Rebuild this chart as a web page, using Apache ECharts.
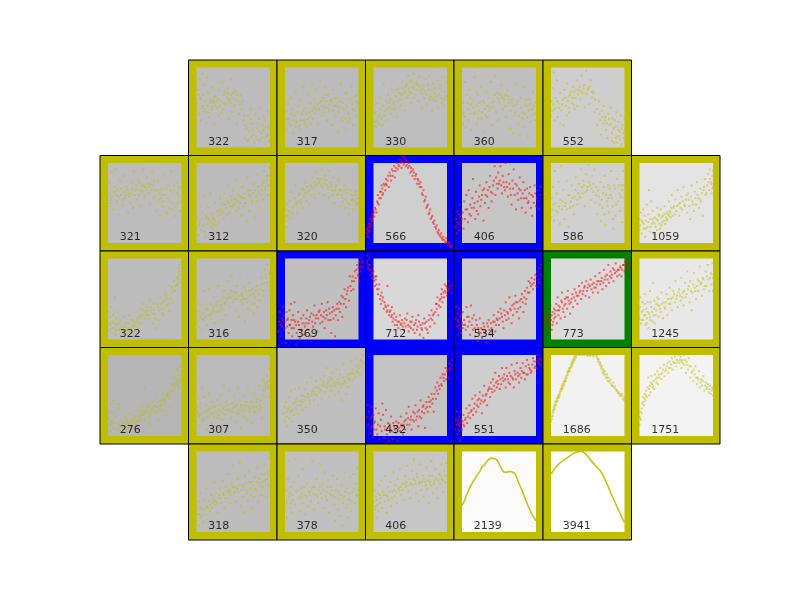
<!DOCTYPE html>
<html>
<head>
<meta charset="utf-8">
<script src="https://cdn.jsdelivr.net/npm/echarts@6/dist/echarts.min.js"></script>
<style>
  html, body { margin: 0; background: #fff; }
  #chart { width: 800px; height: 600px; }
</style>
</head>
<body>
<div id="chart"></div>
<script>
// points, x and y are 0-100 inside each cell's inner box
// row 1
const p322a = [[1,55],[2,72],[3,42],[4,85],[5,62],[6,34],[7,50],[8,92],[9,66],[10,45],[11,78],[12,58],[13,30],[14,88],[15,52],[16,68],[17,38],[19,60],[20,47],[21,75],[23,56],[24,30],[26,64],[28,50],[30,72],[31,40],[33,58],[35,82],[36,48],[38,66],[40,54],[42,74],[44,36],[45,60],[47,85],[48,45],[50,68],[52,52],[54,70],[55,30],[57,58],[58,42],[60,65],[62,48],[64,34],[66,12],[67,28],[69,8],[70,40],[72,20],[74,48],[75,14],[77,30],[79,6],[80,42],[82,24],[84,10],[85,36],[87,50],[88,18],[90,28],[92,4],[93,34],[95,14],[96,45],[98,24],[99,8]];
const q322a = [[18,56],[22,58],[25,52],[21,50],[27,57],[29,61],[24,63],[41,62],[43,68],[46,56],[39,70],[44,59],[49,62],[51,72],[53,60],[47,66],[59,54],[56,66],[63,58],[37,55],[6,60],[3,66],[9,52],[12,48],[15,44],[32,52],[34,44],[73,30],[76,22],[78,16],[81,14],[83,30],[86,20],[89,12],[91,22],[94,26],[97,16],[100,30],[71,10],[74,36],[68,24],[65,40],[87,8],[92,38]];
const p317 = [[0,30],[1,45],[2,22],[4,55],[5,36],[7,62],[8,28],[10,48],[11,18],[13,40],[15,70],[16,32],[18,52],[19,24],[21,60],[23,42],[24,76],[26,34],[28,50],[30,26],[32,66],[33,44],[35,55],[37,80],[38,36],[40,60],[42,48],[43,72],[45,30],[47,56],[48,84],[50,40],[52,62],[54,50],[55,76],[57,34],[59,66],[60,46],[62,58],[64,28],[66,72],[67,52],[69,40],[71,62],[72,20],[74,50],[76,80],[78,38],[79,56],[81,24],[83,68],[85,44],[86,32],[88,60],[90,76],[92,48],[93,28],[95,64],[97,40],[99,56],[100,70]];
const q317 = [[34,38],[37,46],[41,42],[39,50],[44,54],[46,48],[49,58],[51,52],[53,44],[56,58],[58,50],[61,54],[63,60],[65,46],[68,62],[70,52],[73,44],[75,58],[77,34],[80,48],[84,52],[87,42],[89,36],[91,54],[94,46],[96,58],[98,66],[22,34],[25,46],[27,30],[29,42],[31,36],[12,34],[9,42],[6,30],[3,36],[14,26],[17,44],[20,28],[82,36],[36,30],[55,66]];
const p330 = [[1,32],[2,44],[3,26],[4,55],[6,38],[7,30],[9,62],[10,48],[12,28],[14,80],[15,40],[17,58],[18,34],[20,66],[22,50],[24,42],[25,72],[27,56],[29,48],[30,64],[32,38],[34,74],[36,60],[37,52],[39,82],[41,68],[42,46],[44,76],[46,62],[47,90],[49,70],[51,56],[52,84],[54,74],[55,92],[57,66],[59,80],[61,58],[62,88],[64,72],[66,50],[68,78],[69,62],[71,86],[73,54],[75,72],[76,90],[78,64],[80,46],[81,80],[83,68],[85,58],[87,84],[88,50],[90,74],[92,62],[94,88],[95,52],[97,70],[99,82]];
const q330 = [[19,48],[21,56],[23,60],[26,48],[28,54],[16,46],[13,52],[5,34],[8,40],[11,36],[33,58],[35,68],[38,66],[40,74],[43,70],[45,78],[48,74],[50,82],[53,76],[56,80],[58,72],[60,78],[63,76],[65,68],[67,74],[70,70],[72,66],[74,78],[77,60],[79,72],[82,60],[84,74],[86,64],[89,66],[91,78],[93,56],[96,60],[98,64],[31,72],[47,66],[51,68],[55,62]];
const p360 = [[1,30],[2,56],[3,40],[4,82],[5,25],[6,66],[8,48],[9,34],[10,72],[12,54],[13,22],[14,60],[16,42],[17,88],[19,52],[20,30],[21,66],[23,46],[25,76],[26,36],[28,58],[29,20],[31,48],[33,70],[34,38],[36,62],[38,50],[39,82],[41,28],[43,58],[45,90],[46,44],[48,68],[49,34],[51,56],[53,78],[55,48],[56,64],[58,52],[60,38],[61,72],[63,56],[65,24],[66,46],[68,60],[69,18],[71,40],[73,80],[74,54],[76,30],[78,16],[79,62],[81,44],[83,26],[84,76],[86,52],[88,38],[89,14],[91,60],[93,32],[95,48],[96,70],[98,42],[100,56]];
const q360 = [[44,66],[47,62],[50,60],[52,66],[54,62],[57,60],[59,66],[62,64],[64,60],[67,56],[42,50],[40,56],[37,46],[35,52],[32,40],[30,56],[27,44],[24,56],[22,36],[18,44],[15,50],[11,42],[7,56],[4,38],[2,44],[70,52],[72,44],[75,58],[77,40],[80,50],[82,36],[85,42],[87,60],[90,46],[92,54],[94,40],[97,52],[99,34],[11,62],[19,70]];
const p552 = [[0,40],[1,58],[2,46],[3,74],[4,94],[5,34],[6,62],[7,50],[8,84],[9,38],[10,56],[12,68],[13,30],[14,46],[16,60],[17,28],[18,72],[20,52],[21,40],[22,80],[24,64],[25,44],[27,70],[28,56],[30,76],[32,48],[33,62],[35,84],[36,52],[38,72],[40,60],[42,90],[43,68],[45,78],[46,50],[48,96],[49,66],[51,74],[52,54],[54,84],[56,62],[57,70],[59,44],[60,60],[62,48],[63,28],[65,58],[67,34],[68,16],[69,46],[71,30],[72,52],[74,38],[75,22],[77,12],[78,42],[80,28],[81,50],[83,18],[84,36],[86,6],[88,26],[89,44],[90,14],[92,32],[94,20],[95,40],[96,4],[97,28],[99,12],[100,36]];
const q552 = [[26,66],[29,62],[31,70],[34,72],[37,66],[39,76],[41,70],[44,74],[47,68],[50,72],[53,76],[55,70],[58,68],[23,58],[19,62],[15,54],[11,50],[8,58],[5,48],[3,54],[24,50],[31,54],[66,42],[70,38],[73,34],[76,30],[79,36],[82,30],[85,24],[87,34],[91,22],[93,14],[96,24],[98,18],[100,22],[88,12],[83,8],[90,6],[94,10]];
// row 2
const p321 = [[0,46],[1,62],[2,76],[3,50],[5,88],[6,58],[7,42],[9,70],[10,92],[12,52],[13,66],[15,36],[16,78],[18,60],[20,48],[21,84],[23,56],[25,70],[27,38],[28,62],[30,50],[32,76],[34,44],[35,90],[37,66],[39,54],[41,80],[42,60],[44,46],[46,72],[48,92],[50,58],[51,70],[53,82],[55,62],[57,48],[58,74],[60,88],[62,56],[64,66],[66,40],[68,78],[69,54],[71,34],[73,68],[75,46],[77,84],[78,60],[80,38],[82,72],[84,52],[86,90],[87,42],[89,64],[91,34],[93,76],[95,50],[96,58],[98,40],[100,68]];
const q321 = [[22,64],[24,60],[26,66],[29,58],[31,62],[33,68],[36,60],[38,72],[40,68],[43,76],[45,66],[47,64],[49,72],[52,66],[54,74],[56,70],[59,66],[61,72],[63,78],[11,60],[8,64],[4,54],[14,58],[17,68],[19,54],[65,58],[67,66],[70,62],[72,56],[74,60],[76,52],[79,68],[81,56],[83,44],[85,66],[88,50],[90,72],[92,46],[94,62],[97,70],[99,52]];
const p312 = [[0,18],[1,32],[2,10],[4,26],[5,46],[6,16],[8,38],[9,22],[11,58],[12,8],[13,34],[15,24],[16,44],[18,28],[19,62],[21,36],[22,18],[24,30],[25,50],[27,14],[28,40],[30,26],[32,56],[33,36],[35,48],[37,30],[38,62],[40,44],[42,52],[43,72],[45,38],[47,58],[49,46],[50,66],[52,54],[54,78],[55,40],[57,60],[59,50],[61,34],[62,70],[64,46],[66,56],[68,28],[69,82],[71,60],[72,40],[74,66],[76,52],[78,74],[79,32],[81,58],[83,86],[85,64],[86,44],[88,72],[90,54],[92,90],[93,66],[95,78],[97,60],[98,84],[100,72],[99,94]];
const q312 = [[20,26],[23,24],[17,30],[14,32],[19,20],[22,32],[25,28],[26,22],[29,34],[31,40],[34,42],[36,38],[39,48],[41,36],[44,50],[46,46],[48,54],[51,48],[53,56],[56,52],[58,44],[60,58],[63,56],[65,62],[67,50],[70,66],[73,58],[75,48],[77,62],[80,66],[82,52],[84,70],[87,60],[89,66],[91,76],[94,70],[96,84],[98,72],[3,22],[7,30],[10,14]];
const p320 = [[0,28],[1,42],[2,20],[3,48],[4,34],[6,52],[7,30],[8,64],[10,44],[11,36],[13,56],[14,72],[16,48],[17,38],[19,60],[21,50],[23,68],[24,44],[26,58],[28,76],[29,52],[31,64],[33,48],[35,72],[36,60],[38,82],[40,68],[41,56],[43,88],[45,74],[46,62],[48,80],[50,92],[51,70],[53,60],[55,84],[57,72],[59,90],[60,56],[62,76],[64,66],[66,82],[67,50],[69,70],[71,60],[73,78],[75,46],[76,66],[78,56],[80,72],[82,44],[84,62],[86,50],[87,36],[89,66],[91,54],[93,42],[95,60],[97,48],[99,56]];
const q320 = [[40,76],[42,72],[44,80],[47,76],[49,72],[52,80],[54,74],[56,78],[58,68],[61,70],[63,72],[37,70],[34,66],[30,70],[27,62],[25,66],[22,54],[20,62],[18,52],[15,50],[12,46],[9,38],[5,40],[2,34],[65,60],[68,66],[70,72],[72,62],[74,66],[77,60],[79,52],[81,66],[83,54],[85,68],[88,48],[90,60],[92,54],[94,52],[96,64],[98,50]];
const p566 = [[-9,12],[-8,18],[-7,9],[-6,24],[-5,16],[-4,30],[-3,22],[-2,36],[-1,27],[0,40],[1,33],[2,44],[4,38],[5,52],[6,60],[7,48],[9,64],[10,56],[11,72],[12,60],[13,62],[14,74],[16,66],[17,80],[18,72],[20,84],[21,70],[22,88],[24,78],[25,92],[26,84],[28,96],[29,82],[30,90],[32,100],[33,92],[35,96],[36,104],[38,94],[40,108],[41,98],[43,106],[44,96],[45,102],[47,94],[48,100],[50,88],[51,94],[53,84],[54,92],[56,80],[58,86],[59,74],[61,78],[63,70],[64,76],[66,62],[68,66],[69,52],[71,58],[72,44],[74,48],[75,36],[77,42],[78,30],[80,34],[81,26],[83,28],[84,20],[86,22],[87,14],[89,16],[90,10],[92,12],[93,6],[95,8],[96,4],[98,2],[99,6],[101,-2],[103,1],[105,-5],[106,-3]];
const q566 = [[-9,16],[-7,20],[-5,24],[-3,28],[-1,34],[1,38],[3,42],[6,50],[8,56],[10,64],[12,68],[15,72],[17,74],[19,78],[23,84],[27,90],[31,94],[34,98],[37,100],[39,102],[42,100],[44,104],[46,98],[49,96],[52,90],[55,88],[57,84],[60,80],[62,74],[65,70],[67,60],[70,54],[73,46],[76,38],[79,32],[82,24],[85,18],[88,12],[91,8],[94,4],[97,0],[100,2],[102,-1],[104,-4],[-8,8],[-6,14],[-4,20],[-2,30]];
const p406a = [[-9,20],[-8,30],[-7,12],[-6,40],[-5,24],[-4,16],[-3,48],[-2,34],[-1,26],[1,38],[2,18],[3,52],[4,30],[6,60],[7,42],[8,26],[9,66],[11,48],[12,34],[14,56],[15,80],[16,44],[18,30],[19,64],[21,52],[22,36],[24,72],[25,46],[27,60],[29,28],[30,68],[31,50],[33,76],[34,58],[36,44],[38,84],[39,64],[40,52],[42,72],[44,96],[45,60],[46,82],[48,68],[49,88],[50,74],[52,96],[54,62],[55,84],[57,70],[59,100],[60,76],[62,58],[63,86],[65,68],[67,48],[68,78],[70,92],[71,60],[73,42],[74,72],[76,54],[78,82],[79,66],[81,44],[83,76],[84,56],[86,38],[88,68],[89,50],[91,62],[93,44],[95,34],[96,58],[98,72],[100,46],[102,66],[103,52],[105,60],[106,70],[104,42]];
const q406a = [[23,58],[26,54],[28,66],[32,60],[35,66],[37,70],[41,62],[43,78],[47,74],[51,78],[53,72],[56,76],[58,66],[61,70],[64,74],[66,60],[69,68],[72,74],[75,62],[77,68],[80,56],[82,62],[85,66],[87,56],[90,52],[92,70],[94,60],[97,50],[99,62],[101,56],[-4,36],[-6,26],[-2,22],[0,30],[5,42],[10,36],[13,44],[17,50],[20,40]];
const p586 = [[0,32],[1,56],[2,42],[3,70],[4,28],[5,90],[6,50],[8,62],[9,38],[10,76],[12,24],[13,54],[14,96],[15,42],[17,66],[18,30],[20,50],[21,78],[23,60],[24,20],[26,44],[28,72],[29,56],[31,36],[33,66],[34,82],[36,48],[38,74],[39,58],[41,92],[43,62],[44,78],[46,46],[48,86],[49,66],[51,98],[53,72],[54,54],[56,84],[57,64],[59,92],[60,50],[62,70],[63,36],[65,58],[67,76],[68,28],[70,44],[71,62],[73,84],[74,22],[76,52],[78,72],[79,38],[81,60],[82,90],[84,46],[85,18],[87,68],[88,34],[90,80],[91,52],[93,62],[94,40],[96,72],[97,26],[98,90],[99,56],[100,44]];
const q586 = [[42,70],[45,72],[47,64],[50,70],[52,76],[55,68],[58,74],[61,60],[64,66],[40,56],[37,62],[35,54],[32,58],[30,46],[27,52],[25,60],[22,42],[19,46],[16,52],[11,46],[7,40],[3,48],[69,54],[72,70],[75,60],[77,46],[80,68],[83,56],[86,72],[89,48],[92,72],[95,58],[97,66],[99,72],[66,48],[73,36],[78,56],[84,30]];
const p1059 = [[0,16],[0,30],[1,22],[2,38],[3,12],[4,26],[5,42],[6,18],[7,34],[8,8],[9,28],[10,48],[11,20],[12,36],[13,66],[14,14],[15,30],[16,52],[17,24],[18,40],[20,10],[21,32],[22,20],[24,44],[25,28],[26,36],[28,18],[29,42],[31,26],[32,34],[34,46],[35,24],[37,38],[38,30],[40,52],[41,40],[43,32],[44,60],[46,44],[48,36],[49,54],[51,46],[52,66],[54,34],[55,50],[57,58],[58,42],[60,70],[61,48],[63,54],[65,38],[66,62],[68,46],[69,30],[71,72],[72,52],[74,40],[75,64],[77,48],[78,76],[80,56],[81,44],[83,68],[84,52],[86,34],[87,66],[89,80],[90,60],[92,72],[93,86],[95,66],[96,92],[97,76],[98,62],[99,84],[100,70],[100,90]];
const q1059 = [[19,26],[23,30],[27,24],[30,32],[33,28],[36,32],[39,36],[42,38],[45,34],[47,46],[50,40],[53,48],[56,44],[59,52],[62,46],[64,60],[67,54],[70,58],[73,48],[76,56],[79,60],[82,54],[85,62],[88,70],[91,62],[94,76],[3,28],[6,24],[9,18],[12,26],[15,20],[18,30],[21,24],[24,16],[27,34],[30,22],[34,36],[37,28],[40,34],[43,44],[96,80],[98,74],[99,68]];
// row 3
const p322b = [[0,20],[1,34],[2,12],[3,28],[4,40],[5,8],[6,22],[7,30],[8,14],[9,52],[10,6],[11,26],[12,18],[13,34],[15,12],[16,24],[18,4],[19,16],[21,28],[22,10],[24,20],[26,6],[27,14],[29,30],[31,12],[32,24],[34,8],[36,18],[38,34],[39,22],[41,14],[43,30],[45,38],[46,20],[48,44],[50,26],[51,34],[53,40],[55,30],[57,48],[59,36],[61,20],[62,44],[64,32],[66,14],[68,40],[69,24],[71,52],[73,38],[75,46],[76,30],[78,56],[80,42],[81,50],[83,36],[84,66],[86,58],[88,46],[90,72],[91,60],[93,76],[94,68],[96,88],[97,74],[98,92],[99,80],[100,64],[100,96]];
const q322b = [[14,20],[17,14],[20,10],[23,16],[25,12],[28,20],[30,8],[33,16],[35,22],[37,12],[40,26],[42,20],[44,28],[47,30],[49,36],[52,30],[54,36],[56,26],[58,40],[60,32],[63,38],[65,26],[67,44],[70,36],[72,44],[74,32],[77,48],[79,52],[82,44],[85,50],[87,64],[89,60],[92,66],[95,78],[97,84],[99,70],[3,18],[6,14],[9,20],[11,12]];
const p316 = [[0,20],[1,36],[2,46],[3,16],[5,28],[6,42],[7,12],[9,32],[10,24],[11,60],[13,38],[14,18],[16,30],[17,62],[19,44],[20,26],[22,36],[24,52],[25,20],[27,42],[29,34],[30,66],[32,48],[34,24],[35,38],[37,60],[39,46],[40,30],[42,72],[43,52],[45,40],[47,60],[48,78],[50,46],[51,58],[53,36],[55,66],[56,50],[58,28],[59,76],[61,56],[63,44],[65,64],[66,22],[68,50],[70,38],[71,70],[73,54],[75,44],[76,62],[78,32],[80,52],[82,66],[83,40],[85,56],[87,48],[88,76],[90,60],[92,70],[93,86],[95,76],[96,92],[98,66],[99,82],[100,72]];
const q316 = [[44,56],[46,52],[49,54],[52,50],[54,58],[57,54],[60,48],[62,54],[64,50],[41,50],[38,44],[36,52],[33,42],[31,36],[28,46],[26,34],[23,40],[21,32],[18,30],[15,36],[12,28],[8,26],[4,34],[2,24],[67,60],[69,46],[72,60],[74,36],[77,56],[79,44],[81,60],[84,48],[86,62],[89,68],[91,54],[94,80],[97,70],[99,60]];
const p369 = [[-9,10],[-8,22],[-7,34],[-6,4],[-5,26],[-4,16],[-3,40],[-2,30],[-1,12],[0,22],[1,-4],[2,34],[3,16],[4,26],[5,8],[6,36],[7,18],[8,44],[9,24],[10,4],[11,30],[12,14],[13,46],[14,22],[15,-6],[16,8],[18,34],[19,18],[20,2],[22,26],[23,12],[25,30],[26,6],[28,20],[30,36],[31,12],[33,24],[35,4],[36,32],[38,16],[40,42],[42,26],[44,10],[46,34],[48,20],[50,44],[52,28],[54,14],[56,36],[58,46],[59,24],[61,32],[63,8],[65,40],[66,26],[68,4],[70,38],[72,24],[74,46],[75,34],[77,54],[78,28],[80,44],[81,62],[83,40],[84,56],[86,64],[87,48],[88,78],[90,60],[91,72],[93,62],[95,84],[96,76],[98,92],[99,80],[100,88],[101,72],[102,96],[103,84],[104,100],[105,90],[106,96]];
const q369 = [[-6,18],[-3,24],[0,14],[3,24],[6,18],[9,14],[12,24],[15,18],[18,22],[21,12],[24,20],[27,16],[29,26],[32,20],[34,28],[37,22],[39,30],[41,20],[43,30],[45,26],[47,36],[49,30],[51,22],[53,34],[55,26],[57,30],[60,38],[62,24],[64,34],[67,36],[69,30],[71,44],[73,38],[76,44],[79,52],[82,50],[85,60],[89,66],[92,78],[94,72],[97,86],[100,78],[103,90]];
const p712 = [[-9,96],[-8,104],[-7,88],[-6,100],[-5,92],[-4,80],[-3,86],[-2,76],[0,84],[1,72],[2,66],[3,74],[4,78],[5,62],[6,56],[8,68],[9,50],[10,44],[11,58],[13,52],[14,38],[15,46],[17,40],[18,34],[19,66],[20,42],[21,30],[23,36],[24,28],[25,40],[26,22],[28,32],[29,18],[31,28],[33,22],[34,14],[36,30],[37,18],[39,24],[41,12],[43,26],[44,16],[46,32],[48,10],[50,22],[51,14],[53,28],[55,18],[56,8],[58,24],[59,12],[61,30],[63,6],[64,18],[66,12],[68,2],[69,26],[71,14],[72,22],[74,8],[76,30],[77,16],[79,36],[80,24],[82,32],[83,20],[85,44],[86,38],[87,52],[88,30],[90,48],[91,40],[92,56],[93,62],[94,46],[96,52],[97,68],[98,58],[99,66],[100,54],[102,72],[103,62],[104,66],[106,58],[107,68]];
const q712 = [[2,78],[4,68],[7,62],[10,54],[12,48],[16,42],[19,36],[22,34],[25,30],[27,26],[30,24],[32,18],[35,22],[38,20],[40,16],[42,20],[45,24],[47,18],[49,16],[52,22],[54,12],[57,20],[60,16],[62,22],[65,14],[67,20],[70,20],[73,12],[75,24],[78,26],[81,30],[84,34],[86,44],[89,42],[91,50],[93,52],[95,58],[97,60],[100,64],[101,60],[-7,92],[-5,86],[-2,82],[0,76]];
const p534 = [[-9,26],[-8,40],[-7,16],[-6,32],[-5,22],[-4,38],[-3,14],[-2,28],[-1,8],[0,20],[1,34],[2,18],[3,24],[5,12],[6,40],[7,28],[8,16],[10,22],[11,6],[12,42],[14,26],[15,12],[16,30],[18,4],[20,18],[21,-2],[23,10],[24,26],[26,14],[27,2],[29,20],[31,8],[33,-4],[35,16],[36,24],[38,6],[40,14],[42,22],[43,30],[45,10],[47,26],[49,34],[50,18],[52,38],[54,28],[56,14],[57,36],[59,46],[60,24],[62,32],[64,52],[65,38],[67,20],[69,30],[70,44],[72,54],[74,34],[75,46],[77,26],[79,40],[81,56],[82,46],[83,34],[85,60],[87,50],[88,64],[90,72],[91,58],[93,66],[94,76],[96,62],[97,70],[99,80],[100,66],[102,84],[103,74],[105,88],[106,80],[107,92],[104,70]];
const q534 = [[4,18],[9,28],[13,18],[17,14],[19,24],[22,14],[25,8],[28,12],[30,16],[32,10],[34,20],[37,12],[39,20],[41,10],[44,22],[46,18],[48,24],[51,26],[53,32],[55,22],[58,30],[61,34],[63,26],[66,36],[68,42],[71,38],[73,46],[76,38],[78,48],[80,50],[84,52],[86,44],[89,58],[92,70],[95,68],[98,74],[101,78],[-6,24],[-4,18],[-1,30],[1,14]];
const p773 = [[-8,14],[-7,26],[-6,36],[-5,20],[-4,8],[-3,30],[-2,16],[-1,42],[0,24],[1,12],[2,34],[3,22],[4,38],[6,28],[7,44],[8,20],[9,52],[10,30],[11,36],[13,26],[14,48],[15,58],[17,34],[18,42],[19,28],[21,52],[22,38],[23,60],[25,44],[26,32],[28,50],[29,56],[30,40],[32,62],[33,48],[35,54],[36,44],[38,66],[39,58],[41,50],[42,70],[43,56],[45,64],[47,54],[48,72],[49,60],[51,68],[52,52],[54,74],[55,62],[57,58],[58,70],[60,78],[61,64],[63,72],[64,58],[66,82],[67,68],[69,76],[70,62],[72,86],[73,74],[75,66],[76,80],[78,92],[79,70],[81,84],[82,76],[84,88],[85,72],[87,82],[88,94],[90,78],[91,86],[93,80],[95,88],[96,78],[98,92],[100,84],[101,96],[102,88],[103,100],[105,92],[106,86],[107,96]];
const q773 = [[-6,24],[-3,18],[-1,28],[1,30],[4,26],[5,32],[9,36],[12,40],[16,38],[20,44],[24,48],[27,46],[31,52],[34,58],[37,54],[40,60],[44,60],[46,66],[50,64],[53,66],[56,68],[59,64],[62,68],[65,72],[68,72],[71,70],[74,78],[77,74],[80,78],[83,80],[86,86],[89,84],[92,86],[94,90],[97,86],[99,92],[102,94],[104,90],[-5,30],[-2,24],[2,18],[6,36],[10,42],[15,46],[19,50],[23,52]];
const p1245 = [[0,26],[1,40],[1,52],[2,20],[3,34],[4,46],[5,24],[6,30],[7,56],[8,18],[9,38],[10,26],[11,46],[12,14],[13,32],[14,60],[15,24],[16,40],[18,70],[19,30],[20,48],[21,20],[23,36],[24,52],[26,28],[27,42],[29,34],[30,58],[32,26],[33,46],[35,38],[37,56],[38,30],[40,44],[41,64],[43,50],[44,36],[46,60],[48,46],[49,72],[51,54],[52,40],[54,62],[56,48],[57,76],[59,58],[60,42],[62,70],[63,52],[65,84],[66,62],[68,46],[69,72],[71,36],[72,58],[74,82],[75,64],[77,50],[79,74],[80,60],[82,90],[83,68],[85,54],[86,76],[88,62],[90,84],[91,66],[93,92],[94,74],[95,60],[97,82],[98,68],[99,94],[100,76],[100,60]];
const q1245 = [[5,36],[8,30],[11,34],[14,28],[17,34],[20,38],[22,30],[25,42],[28,38],[31,44],[34,40],[36,46],[39,50],[42,44],[45,52],[47,56],[50,50],[53,58],[55,54],[58,52],[61,60],[64,56],[67,66],[70,60],[73,68],[76,60],[78,66],[81,72],[84,70],[87,74],[89,66],[92,78],[96,76],[98,80],[3,24],[7,44],[10,20],[15,46],[18,22],[23,44],[26,50]];
// row 4
const p276 = [[0,12],[1,22],[2,30],[3,6],[4,18],[5,40],[6,28],[7,10],[8,44],[9,16],[10,24],[12,8],[13,34],[14,40],[15,14],[17,4],[19,18],[21,10],[23,24],[25,6],[27,16],[29,28],[31,12],[33,20],[35,8],[37,24],[39,14],[41,30],[43,18],[45,26],[47,36],[49,20],[50,60],[51,30],[53,38],[55,24],[57,14],[59,34],[61,42],[63,28],[65,48],[67,36],[69,20],[71,44],[73,32],[75,52],[77,40],[79,26],[81,54],[83,46],[85,36],[87,64],[89,56],[90,72],[91,60],[93,66],[94,82],[95,62],[96,74],[97,60],[98,86],[99,70],[100,80]];
const q276 = [[16,10],[18,14],[22,16],[24,12],[26,20],[28,10],[30,18],[32,14],[34,22],[36,16],[38,20],[40,18],[42,24],[44,22],[46,30],[48,26],[50,28],[52,34],[54,30],[56,36],[58,28],[60,32],[62,36],[64,38],[66,30],[68,42],[70,34],[72,38],[74,44],[76,46],[78,44],[80,50],[82,50],[84,52],[86,56],[88,62],[92,64],[94,70],[96,66],[98,68],[3,14],[6,18]];
const p307 = [[0,18],[1,36],[2,46],[3,24],[4,12],[5,40],[7,28],[8,60],[9,18],[10,48],[12,30],[13,38],[14,8],[16,24],[17,52],[18,34],[20,42],[21,16],[23,28],[25,36],[26,12],[28,44],[29,22],[31,32],[33,50],[34,20],[36,34],[37,62],[39,26],[41,42],[42,14],[44,32],[45,56],[47,22],[48,40],[50,30],[51,50],[53,18],[54,38],[56,60],[57,28],[59,44],[60,10],[62,34],[64,24],[65,50],[67,38],[69,20],[70,58],[72,30],[74,42],[75,16],[77,36],[79,52],[80,28],[82,42],[84,32],[85,62],[87,44],[89,22],[90,50],[91,70],[92,56],[94,64],[95,48],[96,74],[97,58],[98,62],[99,84],[100,68]];
const q307 = [[6,34],[11,22],[15,32],[19,28],[22,36],[24,24],[27,30],[30,26],[32,38],[35,28],[38,36],[40,32],[43,38],[46,30],[49,34],[52,36],[55,28],[58,32],[61,38],[63,30],[66,32],[68,42],[71,36],[73,34],[76,42],[78,30],[81,36],[83,46],[86,38],[88,34],[91,56],[93,60],[95,66],[97,68],[99,60],[2,30],[4,26],[8,20]];
const p350 = [[-2,28],[-1,36],[0,18],[1,42],[2,24],[3,12],[4,34],[5,48],[6,22],[7,30],[8,56],[9,18],[11,40],[12,26],[13,58],[15,34],[16,46],[18,28],[19,60],[21,38],[22,50],[24,32],[26,44],[27,58],[29,36],[30,66],[32,48],[34,40],[35,72],[37,54],[39,44],[40,60],[42,68],[43,50],[45,38],[47,58],[48,70],[50,46],[51,62],[53,74],[55,54],[56,84],[58,64],[60,48],[61,72],[63,56],[65,78],[66,62],[68,50],[70,82],[71,66],[73,54],[75,76],[77,44],[78,64],[80,88],[81,68],[83,52],[85,72],[87,60],[89,76],[90,92],[92,68],[93,82],[95,72],[96,96],[98,80],[100,88],[102,76],[103,94],[105,86],[106,100],[107,90]];
const q350 = [[3,30],[6,36],[10,32],[14,42],[17,38],[20,44],[23,42],[25,50],[28,48],[31,52],[33,44],[36,50],[38,56],[41,52],[44,60],[46,54],[49,56],[52,66],[54,62],[57,60],[59,68],[62,62],[64,70],[67,66],[69,62],[72,70],[74,64],[76,60],[79,72],[82,66],[84,60],[86,76],[88,70],[91,78],[94,76],[97,86],[99,78],[101,84],[104,92]];
const p432 = [[-9,24],[-8,38],[-7,14],[-6,30],[-5,4],[-4,22],[-3,36],[-2,12],[-1,-2],[0,26],[1,8],[2,18],[3,34],[5,2],[6,14],[7,28],[8,-4],[10,20],[11,6],[12,40],[13,26],[14,-2],[15,12],[17,32],[18,2],[20,16],[21,-6],[23,8],[24,24],[26,-4],[28,12],[30,4],[31,18],[33,-6],[35,10],[37,24],[38,14],[40,2],[42,18],[43,8],[45,28],[46,14],[48,36],[50,20],[52,8],[54,30],[55,18],[57,38],[59,24],[61,12],[62,32],[64,44],[65,22],[67,36],[69,28],[70,10],[72,42],[74,30],[75,48],[77,36],[79,52],[80,40],[82,30],[84,60],[85,46],[87,66],[88,52],[90,58],[91,72],[93,62],[94,76],[96,68],[98,84],[99,70],[100,80],[102,72],[103,90],[104,82],[106,88],[107,94]];
const q432 = [[-4,10],[-2,24],[1,16],[4,8],[9,12],[16,8],[19,10],[22,14],[25,6],[27,16],[29,8],[32,12],[34,16],[36,6],[39,12],[41,14],[44,20],[47,22],[49,14],[51,24],[53,20],[56,28],[58,20],[60,30],[63,24],[66,30],[68,38],[71,34],[73,36],[76,42],[78,44],[81,46],[83,52],[86,56],[89,62],[92,64],[95,72],[97,76],[101,82],[105,84]];
const p551 = [[-9,8],[-8,20],[-7,30],[-6,2],[-5,14],[-4,24],[-3,-6],[-2,16],[-1,30],[0,8],[1,18],[2,26],[3,12],[5,22],[6,34],[7,16],[9,28],[10,38],[11,22],[13,32],[14,46],[15,26],[17,40],[18,50],[19,30],[21,44],[22,36],[24,54],[25,40],[27,28],[28,50],[30,62],[31,44],[33,52],[34,38],[36,58],[38,48],[39,66],[41,54],[42,70],[44,56],[45,78],[47,60],[48,68],[50,74],[51,58],[53,64],[54,84],[56,68],[57,76],[59,60],[60,84],[62,70],[64,78],[65,64],[67,88],[68,72],[70,60],[71,80],[73,70],[74,90],[76,74],[77,66],[79,84],[80,72],[82,90],[83,78],[85,70],[86,86],[88,94],[89,76],[91,84],[93,78],[95,88],[96,96],[98,84],[100,92],[101,84],[102,100],[104,90],[105,96],[106,88],[107,94]];
const q551 = [[-5,18],[-3,12],[-1,20],[2,14],[4,20],[8,24],[12,30],[16,34],[20,38],[23,46],[26,44],[29,42],[32,50],[35,56],[37,60],[40,58],[43,62],[46,66],[49,64],[52,70],[55,72],[58,70],[61,74],[63,66],[66,74],[69,70],[72,76],[75,78],[78,76],[81,80],[84,78],[87,76],[90,88],[92,82],[94,80],[97,92],[99,86],[103,94],[-7,14],[-4,6]];
const p1686 = [[0,18],[1,24],[2,28],[3,32],[4,36],[5,34],[6,42],[7,38],[8,46],[9,44],[10,50],[11,48],[12,54],[13,58],[14,56],[15,62],[16,60],[17,66],[18,64],[19,70],[20,68],[21,74],[22,78],[23,76],[24,82],[25,80],[26,84],[27,88],[28,86],[29,92],[30,90],[31,96],[32,94],[33,100],[34,98],[35,102],[36,100],[38,104],[40,102],[42,101],[44,103],[46,100],[48,102],[50,99],[52,103],[54,100],[56,102],[58,98],[60,103],[61,100],[63,96],[64,92],[65,94],[66,88],[67,90],[68,84],[69,86],[70,78],[71,82],[72,76],[73,80],[75,72],[76,76],[77,68],[78,72],[80,66],[81,70],[82,64],[84,62],[85,66],[86,60],[88,58],[90,56],[92,54],[94,50],[96,52],[98,46],[100,48]];
const q1686 = [[1,21],[2,25],[3,30],[4,33],[5,38],[6,39],[7,43],[8,42],[9,48],[10,47],[11,51],[12,51],[13,55],[14,59],[15,58],[16,64],[17,62],[18,68],[19,67],[20,72],[21,71],[22,75],[23,80],[24,79],[25,84],[26,81],[27,85],[28,90],[29,88],[30,94],[31,92],[32,98],[33,96],[34,101],[37,102],[39,100],[41,104],[43,100],[45,102],[47,103],[49,100],[51,101],[53,99],[55,103],[57,100],[59,101],[62,99],[64,95],[66,91],[68,87],[70,82],[72,79],[74,76],[76,72],[79,68],[83,62],[87,61],[89,56],[91,53],[93,52],[95,49],[97,50],[99,44]];
const p1751 = [[0,14],[0,24],[1,30],[2,20],[3,34],[4,40],[5,48],[6,38],[7,52],[8,44],[9,56],[10,48],[12,72],[13,50],[14,62],[15,54],[16,74],[18,60],[19,68],[20,58],[21,76],[23,66],[24,80],[25,64],[27,72],[28,84],[30,70],[31,78],[33,88],[34,74],[36,82],[38,90],[39,78],[41,92],[42,84],[44,96],[45,82],[47,90],[48,98],[50,86],[51,94],[53,100],[54,90],[56,98],[57,84],[58,94],[60,100],[61,88],[63,78],[64,92],[66,82],[67,96],[69,72],[70,86],[72,80],[73,68],[75,76],[76,86],[78,64],[79,72],[81,80],[82,60],[84,70],[85,62],[87,74],[88,56],[90,66],[91,58],[93,64],[94,54],[96,62],[97,52],[99,60],[100,50]];
const q1751 = [[1,22],[3,28],[5,42],[7,46],[9,50],[11,60],[13,58],[15,66],[17,64],[19,62],[22,70],[24,72],[26,76],[29,76],[32,82],[35,80],[37,86],[40,84],[43,88],[46,92],[49,90],[52,92],[55,94],[57,92],[59,90],[62,94],[65,88],[68,86],[71,78],[74,82],[77,72],[80,70],[83,66],[86,68],[89,62],[92,60],[95,58],[98,56],[100,58]];
// row 5
const p318 = [[0,14],[1,30],[2,22],[3,8],[4,38],[5,18],[6,48],[8,28],[9,12],[10,40],[11,22],[13,54],[14,32],[15,16],[17,38],[18,26],[20,46],[21,30],[23,40],[24,62],[26,34],[27,48],[29,24],[30,42],[32,54],[34,36],[35,64],[37,46],[38,30],[40,56],[42,42],[43,72],[45,50],[46,36],[48,60],[49,82],[51,48],[53,56],[54,38],[56,66],[57,50],[59,86],[60,32],[62,58],[63,44],[65,24],[66,70],[68,52],[70,38],[71,76],[73,54],[75,62],[76,30],[78,44],[80,68],[81,52],[83,80],[84,38],[86,60],[88,46],[89,72],[91,56],[92,84],[94,64],[95,44],[97,74],[98,58],[99,92],[100,76]];
const q318 = [[16,30],[19,34],[22,36],[25,38],[28,36],[31,46],[33,42],[36,48],[39,42],[41,50],[44,52],[47,46],[50,56],[52,50],[55,54],[58,58],[61,52],[64,56],[67,60],[69,48],[72,62],[74,46],[77,58],[79,54],[82,62],[85,66],[87,56],[90,62],[93,72],[96,66],[98,70],[7,20],[12,30],[4,22],[6,30]];
const p378 = [[0,28],[1,52],[2,36],[3,18],[4,66],[5,44],[6,88],[7,30],[8,56],[9,24],[11,40],[12,62],[13,90],[14,34],[15,50],[16,14],[18,70],[19,42],[20,26],[22,54],[24,36],[25,78],[27,46],[28,22],[30,60],[31,32],[33,50],[35,38],[37,88],[38,56],[40,28],[42,46],[43,66],[45,36],[46,52],[48,84],[50,42],[51,60],[53,30],[54,74],[56,50],[57,40],[59,64],[60,24],[62,56],[63,46],[65,70],[67,34],[68,14],[69,52],[71,66],[72,28],[74,40],[75,20],[77,58],[78,8],[80,44],[81,74],[83,30],[84,54],[86,18],[87,40],[89,68],[90,26],[92,50],[93,72],[95,36],[96,60],[98,80],[99,44]];
const q378 = [[10,46],[17,52],[21,44],[23,48],[26,56],[29,44],[32,50],[34,46],[36,54],[39,48],[41,56],[44,44],[47,56],[49,48],[52,52],[55,44],[58,56],[61,48],[64,52],[66,44],[70,42],[73,50],[76,46],[79,36],[82,50],[85,34],[88,48],[91,38],[94,54],[97,46],[100,52],[3,40],[6,48],[8,36]];
const p406b = [[0,22],[1,38],[1,52],[2,28],[3,44],[4,18],[5,34],[6,48],[7,26],[8,58],[9,36],[10,42],[11,64],[12,30],[13,50],[15,38],[16,70],[17,46],[18,24],[20,56],[21,40],[23,62],[24,32],[26,50],[27,74],[29,44],[30,58],[32,36],[33,66],[35,52],[36,78],[38,46],[39,60],[41,40],[43,70],[44,56],[46,82],[47,50],[49,66],[50,42],[52,76],[53,58],[55,90],[56,64],[58,48],[59,72],[61,38],[62,60],[64,84],[65,52],[67,70],[68,44],[70,62],[72,80],[73,54],[75,36],[76,70],[78,58],[79,88],[81,48],[83,64],[84,78],[86,54],[87,42],[89,72],[90,60],[92,84],[93,66],[95,50],[96,76],[98,62],[99,86],[100,70]];
const q406b = [[14,46],[19,44],[22,50],[25,42],[28,52],[31,50],[34,54],[37,56],[40,52],[42,60],[45,62],[48,58],[51,60],[54,66],[57,60],[60,68],[63,62],[66,62],[69,66],[71,58],[74,64],[77,62],[80,70],[82,60],[85,66],[88,64],[91,70],[94,64],[97,70],[5,40],[9,46],[3,32]];
const p2139 = [[0,33],[3,38],[6,46],[9,52],[12,58],[16,64],[20,70],[24,75],[27,81],[30,83],[33,87],[36,90],[40,92],[44,91],[47,90],[50,85],[53,79],[56,75],[59,74],[63,75],[67,75],[71,73],[74,68],[77,60],[80,54],[83,47],[86,40],[89,33],[92,27],[95,21],[98,17],[100,14]];
const p3941 = [[0,72],[3,76],[6,80],[10,84],[14,87],[18,90],[22,92],[26,95],[30,97],[34,99],[38,100],[43,100],[47,97],[51,93],[55,88],[59,84],[63,80],[67,76],[70,72],[73,66],[76,60],[79,54],[82,47],[85,41],[88,35],[91,29],[94,23],[97,17],[100,12]];

const rows    = [0,0,0,0,0, 1,1,1,1,1,1,1, 2,2,2,2,2,2,2, 3,3,3,3,3,3,3, 4,4,4,4,4];
const cols    = [1,2,3,4,5, 0,1,2,3,4,5,6, 0,1,2,3,4,5,6, 0,1,2,3,4,5,6, 1,2,3,4,5];
const counts  = [322,317,330,360,552, 321,312,320,566,406,586,1059, 322,316,369,712,534,773,1245, 276,307,350,432,551,1686,1751, 318,378,406,2139,3941];
const points  = [
  [...p322a,...q322a],[...p317,...q317],[...p330,...q330],[...p360,...q360],[...p552,...q552],
  [...p321,...q321],[...p312,...q312],[...p320,...q320],[...p566,...q566],[...p406a,...q406a],[...p586,...q586],[...p1059,...q1059],
  [...p322b,...q322b],[...p316,...q316],[...p369,...q369],[...p712,...q712],[...p534,...q534],[...p773,...q773],[...p1245,...q1245],
  [...p276,...q276],[...p307,...q307],[...p350,...q350],[...p432,...q432],[...p551,...q551],[...p1686,...q1686],[...p1751,...q1751],
  [...p318,...q318],[...p378,...q378],[...p406b,...q406b],p2139,p3941,
];
const frames  = ['y','y','y','y','y', 'y','y','y','b','b','y','y', 'y','y','b','b','b','g','y', 'y','y','n','b','b','y','y', 'y','y','y','y','y'];
const faces   = ['#bcbcbc','#bbbbbb','#bdbdbd','#bfbfbf','#cecece', '#bcbcbc','#bbbbbb','#bcbcbc','#cfcfcf','#c6c6c6','#d0d0d0','#e4e4e4', '#bcbcbc','#bbbbbb','#c0c0c0','#d8d8d8','#cdcdcd','#dbdbdb','#e8e8e8', '#b5b5b5','#bababa','#bebebe','#c4c4c4','#cecece','#f2f2f2','#f3f3f3', '#bcbcbc','#c0c0c0','#c6c6c6','#fbfbfb','#ffffff'];
const lineCells = [2139, 3941];

const colEdges = [100, 188.5, 277, 365.5, 454, 543, 631.5, 720];
const rowEdges = [60, 155.5, 251, 347.5, 444, 540];
const frameColor = { y: '#bfbf00', b: '#0000ff', g: '#008000' };

const grid = [];
const xAxis = [];
const yAxis = [];
const series = [];

counts.forEach((count, i) => {
  const left = colEdges[cols[i]];
  const right = colEdges[cols[i] + 1];
  const top = rowEdges[rows[i]];
  const bottom = rowEdges[rows[i] + 1];
  const red = frames[i] === 'b' || frames[i] === 'g';
  const color = red ? '#ff0000' : '#bfbf00';

  // frame
  grid.push({
    show: true,
    left: left,
    top: top,
    width: right - left,
    height: bottom - top,
    backgroundColor: frameColor[frames[i]] || faces[i],
    borderColor: '#000',
    borderWidth: 1,
  });
  xAxis.push({ gridIndex: grid.length - 1, type: 'value', show: false });
  yAxis.push({ gridIndex: grid.length - 1, type: 'value', show: false });

  // inner box
  grid.push({
    show: true,
    left: left + 8,
    top: top + 7.5,
    width: right - left - 15,
    height: bottom - top - 15.5,
    backgroundColor: faces[i],
    borderWidth: 0,
  });
  const g = grid.length - 1;
  xAxis.push({ gridIndex: g, type: 'value', min: 0, max: 100, show: false });
  yAxis.push({ gridIndex: g, type: 'value', min: 0, max: 100, show: false });

  if (lineCells.includes(count)) {
    series.push({
      type: 'line',
      xAxisIndex: g,
      yAxisIndex: g,
      data: points[i],
      symbol: 'none',
      clip: false,
      z: 3,
      lineStyle: { color: color, width: 1.6, opacity: 0.9 },
    });
  } else {
    series.push({
      type: 'scatter',
      xAxisIndex: g,
      yAxisIndex: g,
      data: points[i],
      symbol: 'rect',
      symbolSize: 2,
      clip: false,
      z: 3,
      itemStyle: { color: color, opacity: red ? 0.55 : 0.5 },
    });
  }

  // count label
  series.push({
    type: 'scatter',
    xAxisIndex: g,
    yAxisIndex: g,
    data: [[16, 7]],
    symbolSize: 0.01,
    clip: false,
    silent: true,
    z: 5,
    itemStyle: { color: 'rgba(0,0,0,0)' },
    label: {
      show: true,
      position: 'right',
      distance: 0,
      formatter: String(count),
      color: '#000',
      fontFamily: 'DejaVu Sans',
      fontSize: 11,
    },
  });
});

const chart = echarts.init(document.getElementById('chart'));
chart.setOption({
  animation: false,
  backgroundColor: '#fff',
  grid: grid,
  xAxis: xAxis,
  yAxis: yAxis,
  series: series,
});
</script>
</body>
</html>
